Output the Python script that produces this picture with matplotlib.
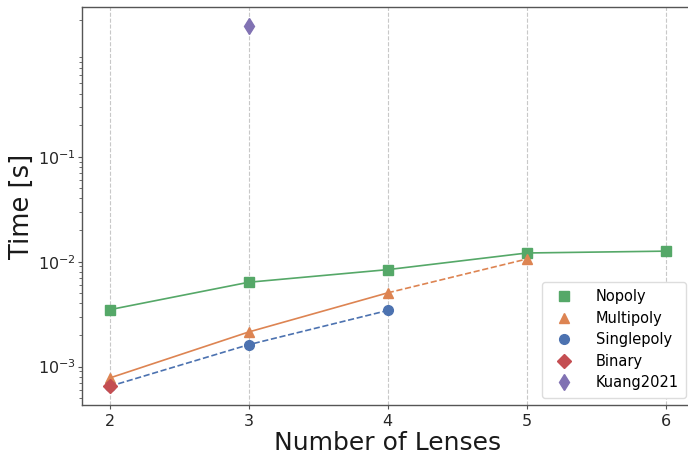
import numpy as np
import matplotlib.pyplot as plt
from matplotlib import ticker

# timings per number of lenses
n_nopoly = [2, 3, 4, 5, 6]
t_nopoly = [3.49e-3, 6.37e-3, 8.4e-3, 1.21e-2, 1.26e-2]
n_multipoly = [2, 3, 4, 5]
t_multipoly = [7.8e-4, 2.14e-3, 5.05e-3, 1.06e-2]
n_singlepoly = [2, 3, 4]
t_singlepoly = [6.5e-4, 1.62e-3, 3.43e-3]
n_binary = [2]
t_binary = [6.6e-4]
n_kuang = [3]
t_kuang = [1.76]

blue = '#4C72B0'
orange = '#DD8452'
green = '#55A868'
red = '#C44E52'
purple = '#8172B3'

fig = plt.figure(figsize=(6.88, 4.57), dpi=100)
ax = fig.add_axes([82 / 688, 52 / 457, 611.6 / 688, 398 / 457])

# connecting lines
ax.plot(n_nopoly, t_nopoly, '-', color=green, linewidth=1.2, zorder=2)
ax.plot(n_multipoly[:3], t_multipoly[:3], '-', color=orange, linewidth=1.2, zorder=2)
ax.plot(n_multipoly[2:], t_multipoly[2:], '--', color=orange, linewidth=1.2, zorder=2)
ax.plot(n_singlepoly, t_singlepoly, '--', color=blue, linewidth=1.2, zorder=2)

# markers
ax.plot(n_nopoly, t_nopoly, 's', color=green, markersize=7, linestyle='', label='Nopoly', zorder=3)
ax.plot(n_multipoly, t_multipoly, '^', color=orange, markersize=7.5, linestyle='', label='Multipoly', zorder=3)
ax.plot(n_singlepoly, t_singlepoly, 'o', color=blue, markersize=7, linestyle='', label='Singlepoly', zorder=3)
ax.plot(n_binary, t_binary, 'D', color=red, markersize=7, linestyle='', label='Binary', zorder=4)
ax.plot(n_kuang, t_kuang, 'd', color=purple, markersize=8, linestyle='', label='Kuang2021', zorder=3)

ax.set_yscale('log')
ax.set_xlim(1.8, 6.2)
ax.set_ylim(4.31e-4, 2.67)
ax.set_xticks([2, 3, 4, 5, 6])
ax.set_yticks([1e-3, 1e-2, 1e-1])
ax.yaxis.set_minor_locator(ticker.LogLocator(base=10, subs=np.arange(2, 10), numticks=20))
ax.yaxis.set_minor_formatter(ticker.NullFormatter())

ax.grid(axis='x', linestyle='--', color='#c8c8c8', linewidth=0.8)
ax.set_axisbelow(True)

for side in ['left', 'bottom', 'top', 'right']:
    ax.spines[side].set_color('#555555')
    ax.spines[side].set_linewidth(1.0)
ax.tick_params(axis='both', which='major', labelsize=11.5, colors='#555555', labelcolor='#262626', length=3)
ax.tick_params(axis='y', which='major', pad=1.5)
ax.tick_params(axis='x', which='major', pad=3.5)
ax.tick_params(axis='y', which='minor', colors='#555555', length=2)

ax.set_xlabel('Number of Lenses', fontsize=18, color='#1a1a1a', labelpad=1.5)
ax.set_ylabel('Time [s]', fontsize=18.5, color='#1a1a1a', labelpad=2)

ax.legend(loc='lower right', fontsize=10.5, handletextpad=1.2, borderpad=0.5,
          labelspacing=0.45, edgecolor='#dddddd', framealpha=1.0)

plt.savefig('out.png', dpi=100)
